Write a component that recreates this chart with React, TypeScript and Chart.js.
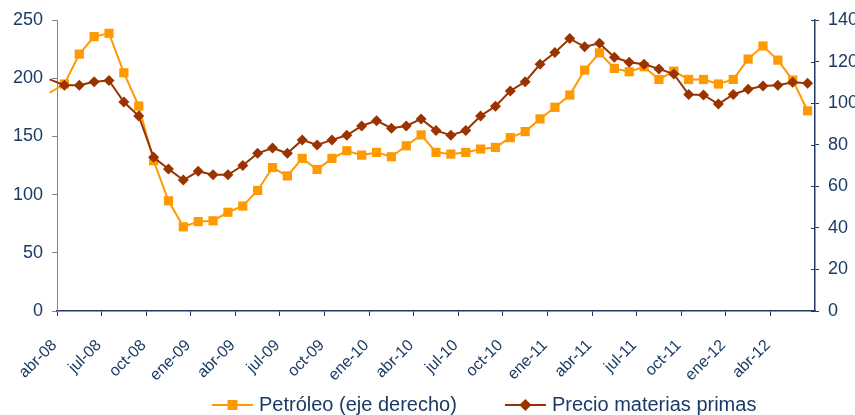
import React, { useEffect, useRef } from 'react';
import { Chart, registerables } from 'chart.js';
Chart.register(...registerables);

// categories (first one lies just outside the visible axis, as in the source)
const months = [
  'mar-08', 'abr-08', 'may-08', 'jun-08', 'jul-08', 'ago-08', 'sep-08', 'oct-08', 'nov-08', 'dic-08',
  'ene-09', 'feb-09', 'mar-09', 'abr-09', 'may-09', 'jun-09', 'jul-09', 'ago-09', 'sep-09', 'oct-09', 'nov-09', 'dic-09',
  'ene-10', 'feb-10', 'mar-10', 'abr-10', 'may-10', 'jun-10', 'jul-10', 'ago-10', 'sep-10', 'oct-10', 'nov-10', 'dic-10',
  'ene-11', 'feb-11', 'mar-11', 'abr-11', 'may-11', 'jun-11', 'jul-11', 'ago-11', 'sep-11', 'oct-11', 'nov-11', 'dic-11',
  'ene-12', 'feb-12', 'mar-12', 'abr-12', 'may-12', 'jun-12',
];

// Petróleo (eje derecho)
const petroleo = [
  105, 109.2, 123.6, 132, 133.6, 114.6, 98.6, 72.3, 53, 40.5, 43,
  43.4, 47.5, 50.5, 58, 69, 65, 73.4, 68.1, 73.4, 77.1, 75,
  76.3, 74.2, 79.5, 84.7, 76.3, 75.5, 76.3, 77.9, 78.7, 83.4, 86.3,
  92.4, 98, 103.9, 115.9, 124.2, 116.7, 115.1, 117.5, 111.4, 115.4,
  111.4, 111.4, 109.2, 111.4, 121.2, 127.5, 120.7, 111.1, 96.3,
];

// Precio materias primas (eje izquierdo)
const materias = [
  199, 194, 194, 197, 198, 179.5, 167.5, 132, 122, 112.5, 120,
  117, 117, 125, 135.5, 140, 135.5, 147, 142.6, 147, 151, 159,
  163.5, 157, 159, 165, 155, 151, 155, 167.5, 176, 189, 197,
  212, 222, 234, 227, 230, 218, 213.7, 212, 208, 203.6, 186,
  185.6, 177.8, 186, 190.5, 193.3, 194, 196.5, 195.6,
];

const leftTicks = { min: 0, max: 250, step: 50 };
const rightTicks = { min: 0, max: 140, step: 20 };

const ORANGE = '#FF9900';
const BROWN = '#993300';
const NAVY = '#1B3A66';
const AXIS_DARK = '#1F3864';
const AXIS_GREY = '#7686A0';
const FONT = '"Liberation Sans", Arial, sans-serif';

const legendItems = [
  { label: 'Petróleo (eje derecho)', color: ORANGE, marker: 'square' },
  { label: 'Precio materias primas', color: BROWN, marker: 'diamond' },
];

const rightInnerTicks = {
  id: 'rightInnerTicks',
  afterDraw(chart: any) {
    const s = chart.scales.y1;
    const ctx = chart.ctx;
    ctx.save();
    ctx.strokeStyle = AXIS_DARK;
    ctx.lineWidth = 1;
    s.ticks.forEach((t: any) => {
      const y = Math.round(s.getPixelForValue(t.value)) + 0.5;
      ctx.beginPath();
      ctx.moveTo(s.left - 4, y);
      ctx.lineTo(s.left, y);
      ctx.stroke();
    });
    ctx.restore();
  },
};

const customLegend = {
  id: 'customLegend',
  afterDraw(chart: any) {
    const ctx = chart.ctx;
    ctx.save();
    ctx.font = `20px ${FONT}`;
    ctx.textBaseline = 'middle';
    const y = 405;
    let x = 212;
    legendItems.forEach((it) => {
      ctx.strokeStyle = it.color;
      ctx.lineWidth = 2;
      ctx.beginPath();
      ctx.moveTo(x, y);
      ctx.lineTo(x + 41, y);
      ctx.stroke();
      const cx = x + 20.5;
      ctx.fillStyle = it.color;
      if (it.marker === 'square') {
        ctx.fillRect(cx - 5, y - 5, 10, 10);
      } else {
        ctx.beginPath();
        ctx.moveTo(cx, y - 6);
        ctx.lineTo(cx + 6, y);
        ctx.lineTo(cx, y + 6);
        ctx.lineTo(cx - 6, y);
        ctx.closePath();
        ctx.fill();
      }
      ctx.fillStyle = NAVY;
      ctx.fillText(it.label, x + 47, y);
      const w = ctx.measureText(it.label).width;
      x = x + 47 + w + 48;
    });
    ctx.restore();
  },
};

export default function App() {
  const ref = useRef<HTMLCanvasElement | null>(null);
  useEffect(() => {
    if (!ref.current) return;
    const chart = new Chart(ref.current, {
      type: 'line',
      data: {
        labels: months,
        datasets: [
          {
            label: 'Petróleo (eje derecho)',
            data: petroleo,
            yAxisID: 'y1',
            borderColor: ORANGE,
            backgroundColor: ORANGE,
            borderWidth: 2,
            pointStyle: 'rect',
            pointRadius: (c: any) => (c.dataIndex === 0 ? 0 : 6.5),
            pointBorderWidth: 0,
            pointBackgroundColor: ORANGE,
            tension: 0,
            order: 2,
            clip: { left: 8, top: 0, right: 0, bottom: 0 } as any,
          },
          {
            label: 'Precio materias primas',
            data: materias,
            yAxisID: 'y',
            borderColor: BROWN,
            backgroundColor: BROWN,
            borderWidth: 2,
            pointStyle: 'rectRot',
            pointRadius: (c: any) => (c.dataIndex === 0 ? 0 : 5.5),
            pointBorderWidth: 0,
            pointBackgroundColor: BROWN,
            tension: 0,
            order: 1,
            clip: { left: 8, top: 0, right: 0, bottom: 0 } as any,
          },
        ],
      },
      options: {
        animation: false,
        responsive: false,
        layout: { padding: { top: 20, left: 0, right: 0, bottom: 0 } },
        plugins: { legend: { display: false }, tooltip: { enabled: false } },
        scales: {
          x: {
            type: 'category',
            min: 'abr-08',
            offset: true,
            grid: {
              offset: true,
              drawOnChartArea: false,
              tickLength: 5,
              color: (c: any) => (c.index % 3 === 0 ? AXIS_DARK : 'rgba(0,0,0,0)'),
            },
            border: { color: AXIS_DARK, width: 1.5 },
            ticks: {
              autoSkip: false,
              minRotation: 45,
              maxRotation: 45,
              labelOffset: -10,
              padding: 20,
              color: NAVY,
              font: { family: FONT, size: 16 },
              callback: function (this: any, val: any) {
                const i = Number(val) - 1;
                return i % 3 === 0 ? this.getLabelForValue(val) : '';
              },
            },
            afterFit: (s: any) => {
              s.height = 104;
            },
          },
          y: {
            position: 'left',
            min: leftTicks.min,
            max: leftTicks.max,
            grid: { drawOnChartArea: false, tickLength: 5, color: AXIS_GREY },
            border: { color: AXIS_GREY, width: 1 },
            ticks: {
              stepSize: leftTicks.step,
              padding: 9,
              color: NAVY,
              font: { family: FONT, size: 18 },
            },
            afterFit: (s: any) => {
              s.width = 57;
            },
          },
          y1: {
            position: 'right',
            min: rightTicks.min,
            max: rightTicks.max,
            grid: { drawOnChartArea: false, tickLength: 4, color: AXIS_DARK },
            border: { color: AXIS_DARK, width: 1.5 },
            ticks: {
              stepSize: rightTicks.step,
              padding: 9,
              color: NAVY,
              font: { family: FONT, size: 18 },
            },
            afterFit: (s: any) => {
              s.width = 40;
            },
          },
        },
      },
      plugins: [rightInnerTicks, customLegend],
    });
    return () => chart.destroy();
  }, []);
  return (
    <div style={{ position: 'fixed', left: 0, top: 0, width: 855, height: 415, background: '#fff' }}>
      <canvas ref={ref} width={855} height={415} style={{ width: 855, height: 415, display: 'block' }} />
    </div>
  );
}
